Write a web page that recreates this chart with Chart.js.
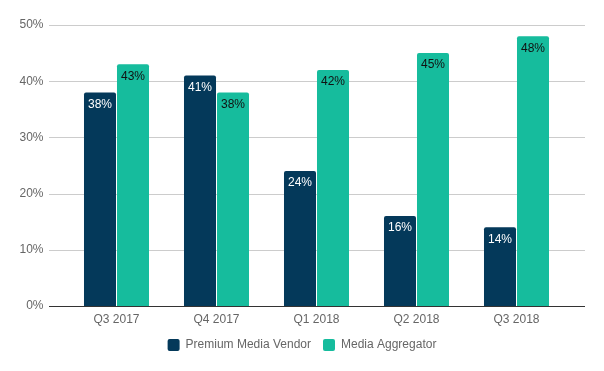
<!DOCTYPE html>
<html>
<head>
<meta charset="utf-8">
<script src="https://cdn.jsdelivr.net/npm/chart.js@4"></script>
<style>
  body { margin: 0; background: #fff; }
  canvas { display: block; }
</style>
</head>
<body>
<canvas id="chart" width="604" height="371"></canvas>
<script>
// dados do grafico
const quarters = ['Q3 2017', 'Q4 2017', 'Q1 2018', 'Q2 2018', 'Q3 2018'];
const premiumVendor = [38, 41, 24, 16, 14];
const mediaAggregator = [43, 38, 42, 45, 48];
const yTicks = [0, 10, 20, 30, 40, 50];

const DARK = '#04395a';
const TEAL = '#16bc9d';
const FONT = '"Liberation Sans", Arial, sans-serif';

// linhas de grade que passam um pouco das bordas da area
const gridPlugin = {
    id: 'gridLines',
    beforeDatasetsDraw(chart) {
        const { ctx, chartArea, scales } = chart;
        ctx.save();
        yTicks.forEach(v => {
            const y = Math.round(scales.y.getPixelForValue(v)) + 0.5;
            ctx.strokeStyle = v === 0 ? '#333333' : '#cccccc';
            ctx.lineWidth = 1;
            ctx.beginPath();
            ctx.moveTo(chartArea.left - 17.5, y);
            ctx.lineTo(chartArea.right + 18.5, y);
            ctx.stroke();
        });
        ctx.restore();
    }
};

// rotulos dentro das barras
const labelPlugin = {
    id: 'barLabels',
    afterDatasetsDraw(chart) {
        const { ctx } = chart;
        ctx.save();
        ctx.font = '12px ' + FONT;
        ctx.textAlign = 'center';
        ctx.textBaseline = 'middle';
        chart.data.datasets.forEach((ds, i) => {
            chart.getDatasetMeta(i).data.forEach((bar, j) => {
                ctx.fillStyle = i === 0 ? '#ffffff' : '#111111';
                ctx.fillText(ds.data[j] + '%', bar.x, bar.y + 12);
            });
        });
        ctx.restore();
    }
};

new Chart(document.getElementById('chart'), {
    type: 'bar',
    data: {
        labels: quarters,
        datasets: [
            {
                label: 'Premium Media Vendor',
                data: premiumVendor,
                backgroundColor: DARK,
                borderRadius: { topLeft: 2, topRight: 2 },
                borderSkipped: 'bottom',
                barPercentage: 0.97,
                categoryPercentage: 0.66
            },
            {
                label: 'Media Aggregator',
                data: mediaAggregator,
                backgroundColor: TEAL,
                borderRadius: { topLeft: 2, topRight: 2 },
                borderSkipped: 'bottom',
                barPercentage: 0.97,
                categoryPercentage: 0.66
            }
        ]
    },
    options: {
        responsive: false,
        animation: false,
        layout: { padding: { top: 25, right: 0, bottom: 10, left: 0 } },
        plugins: {
            tooltip: { enabled: false },
            legend: {
                position: 'bottom',
                labels: {
                    boxWidth: 12,
                    boxHeight: 12,
                    useBorderRadius: true,
                    borderRadius: 2,
                    padding: 12,
                    color: '#666666',
                    font: { family: FONT, size: 12 }
                }
            }
        },
        scales: {
            x: {
                afterFit: scale => { scale.height = 21; },
                grid: { display: false, drawTicks: false },
                border: { display: false },
                ticks: {
                    color: '#666666',
                    padding: 6,
                    font: { family: FONT, size: 12 }
                }
            },
            y: {
                min: 0,
                max: 50,
                afterBuildTicks: scale => { scale.ticks = yTicks.map(v => ({ value: v })); },
                afterFit: scale => {
                    scale.width = 66.5;
                    scale.paddingTop = 0;
                    scale.paddingBottom = 0;
                },
                grid: { display: false },
                border: { display: false },
                ticks: {
                    color: '#666666',
                    padding: 15,
                    callback: v => v + '%',
                    font: { family: FONT, size: 12 }
                }
            },
            // eixo vazio so para reservar espaco a direita
            yRight: {
                position: 'right',
                grid: { display: false },
                border: { display: false },
                ticks: { display: false },
                afterFit: scale => { scale.width = 37.5; }
            }
        }
    },
    plugins: [gridPlugin, labelPlugin]
});
</script>
</body>
</html>
